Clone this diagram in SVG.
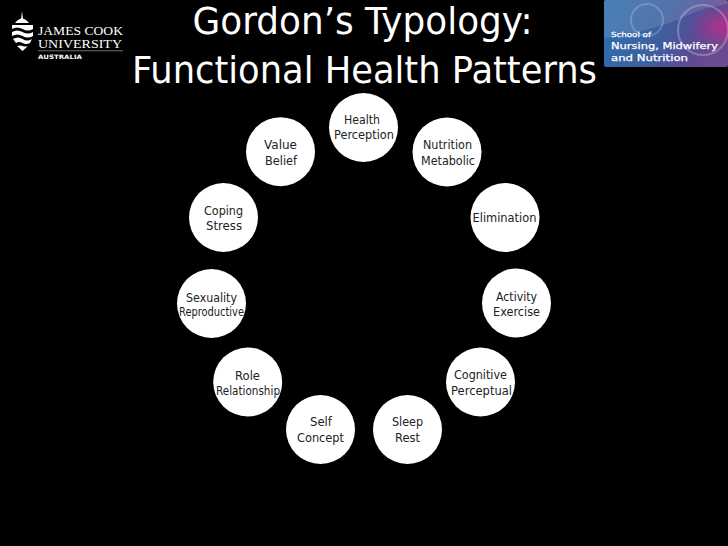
<svg xmlns="http://www.w3.org/2000/svg" width="728" height="546" viewBox="0 0 728 546">
<defs>
<linearGradient id="lg" x1="0" y1="0" x2="1" y2="0.25"><stop offset="0" stop-color="#2f6fae"/><stop offset="0.55" stop-color="#3d5f9f"/><stop offset="0.85" stop-color="#5c4a94"/><stop offset="1" stop-color="#6a4a90"/></linearGradient>
<radialGradient id="mg" cx="0.98" cy="0.4" r="0.3"><stop offset="0" stop-color="#c8288a" stop-opacity="0.8"/><stop offset="1" stop-color="#c8288a" stop-opacity="0"/></radialGradient>
</defs>
<style>
.n{fill:#fff}
text{font-family:"DejaVu Sans","Noto Sans",sans-serif}
.t{font-size:13px;fill:#222;text-anchor:middle}
.s{font-size:12px;fill:#222;text-anchor:middle}
.h{font-size:38px;fill:#fff;text-anchor:middle}
.jcu{font-family:"Liberation Serif",serif;font-size:12.500px;fill:#fff}
.sc{fill:#fff;stroke:#fff;stroke-width:0.250}
</style>
<rect width="728" height="546" fill="#000"/>
<g id="title">
<text class="h" x="362.500" y="34" textLength="340" lengthAdjust="spacingAndGlyphs">Gordon’s Typology:</text>
<text class="h" x="364.500" y="83" textLength="465" lengthAdjust="spacingAndGlyphs">Functional Health Patterns</text>
</g>
<g id="jcu-logo">
<path d="M12 25h21v4q-5 3-10.500 0t-10.500 0zM12 32q5-3 10.500 0t10.500 0v4q-5 3-10.500 0t-10.500 0zM13 39q5-3 9.500 0t9.500 0l-2 4q-4 2-7.500 0t-6.500 0zM17 46q3-1 5.500 0t5.500 0l-5.500 5z" fill="#fff"/>
<path d="M15 23q7-9 14 0zM22 11l1 8h-2z" fill="#fff"/>
<text class="jcu" x="38" y="35" textLength="85" lengthAdjust="spacingAndGlyphs">JAMES COOK</text>
<text class="jcu" x="38" y="48" textLength="84" lengthAdjust="spacingAndGlyphs">UNIVERSITY</text>
<rect x="38" y="50.500" width="85" height="0.700" fill="#999"/>
<text x="38" y="59" font-size="6" font-weight="bold" fill="#fff" textLength="44" lengthAdjust="spacingAndGlyphs">AUSTRALIA</text>
</g>
<g id="school-logo">
<rect x="604" y="0" width="124" height="67" rx="2" fill="url(#lg)"/>
<rect x="604" y="0" width="124" height="67" rx="2" fill="url(#mg)"/>
<path d="M604 38Q660 30 690 14Q710 6 728 4V0H604z" fill="#fff" opacity="0.12"/>
<circle cx="647" cy="20" r="16" fill="none" stroke="#fff" stroke-opacity="0.2" stroke-width="2"/>
<circle cx="703" cy="30" r="25" fill="none" stroke="#fff" stroke-opacity="0.25" stroke-width="2"/>
<text class="sc" x="611" y="37" font-size="7" textLength="40" lengthAdjust="spacingAndGlyphs">School of</text>
<text class="sc" x="611" y="49" font-size="8.500" textLength="107" lengthAdjust="spacingAndGlyphs">Nursing, Midwifery</text>
<text class="sc" x="611" y="61" font-size="8.500" textLength="77" lengthAdjust="spacingAndGlyphs">and Nutrition</text>
</g>
<g id="health"><circle class="n" cx="363.500" cy="127.500" r="34.500"/><text class="t" x="362" y="123.500" textLength="36" lengthAdjust="spacingAndGlyphs">Health</text><text class="t" x="364" y="139" textLength="60" lengthAdjust="spacingAndGlyphs">Perception</text></g>
<g id="nutrition"><circle class="n" cx="447" cy="152" r="34.500"/><text class="t" x="447.500" y="149" textLength="49" lengthAdjust="spacingAndGlyphs">Nutrition</text><text class="t" x="448" y="165" textLength="54" lengthAdjust="spacingAndGlyphs">Metabolic</text></g>
<g id="elimination"><circle class="n" cx="505" cy="217.500" r="34.500"/><text class="t" x="504.500" y="222" textLength="64" lengthAdjust="spacingAndGlyphs">Elimination</text></g>
<g id="activity"><circle class="n" cx="516.500" cy="303" r="34.500"/><text class="t" x="516.500" y="300.500" textLength="41" lengthAdjust="spacingAndGlyphs">Activity</text><text class="t" x="516.500" y="316" textLength="47" lengthAdjust="spacingAndGlyphs">Exercise</text></g>
<g id="cognitive"><circle class="n" cx="480.500" cy="382" r="34.500"/><text class="t" x="480.500" y="379" textLength="53" lengthAdjust="spacingAndGlyphs">Cognitive</text><text class="t" x="481.500" y="395" textLength="61" lengthAdjust="spacingAndGlyphs">Perceptual</text></g>
<g id="sleep"><circle class="n" cx="407.500" cy="429.500" r="34.500"/><text class="t" x="407.500" y="426" textLength="31" lengthAdjust="spacingAndGlyphs">Sleep</text><text class="t" x="407.500" y="442" textLength="25" lengthAdjust="spacingAndGlyphs">Rest</text></g>
<g id="self"><circle class="n" cx="320.500" cy="429.500" r="34.500"/><text class="t" x="321" y="426" textLength="22" lengthAdjust="spacingAndGlyphs">Self</text><text class="t" x="320.500" y="442" textLength="47" lengthAdjust="spacingAndGlyphs">Concept</text></g>
<g id="role"><circle class="n" cx="247.700" cy="382" r="34.500"/><text class="t" x="247.500" y="380" textLength="25" lengthAdjust="spacingAndGlyphs">Role</text><text class="s" x="248" y="395" textLength="64" lengthAdjust="spacingAndGlyphs">Relationship</text></g>
<g id="sexuality"><circle class="n" cx="211.500" cy="303.500" r="34.500"/><text class="t" x="211.500" y="301.500" textLength="51" lengthAdjust="spacingAndGlyphs">Sexuality</text><text class="s" x="211.500" y="316" textLength="65" lengthAdjust="spacingAndGlyphs">Reproductive</text></g>
<g id="coping"><circle class="n" cx="223.500" cy="217.500" r="34.500"/><text class="t" x="223.500" y="215" textLength="39" lengthAdjust="spacingAndGlyphs">Coping</text><text class="t" x="224" y="230" textLength="36" lengthAdjust="spacingAndGlyphs">Stress</text></g>
<g id="value"><circle class="n" cx="280.500" cy="151.700" r="34.500"/><text class="t" x="280.500" y="149.300" textLength="33" lengthAdjust="spacingAndGlyphs">Value</text><text class="t" x="281" y="165" textLength="32" lengthAdjust="spacingAndGlyphs">Belief</text></g>
<g id="connectors"/>
</svg>
